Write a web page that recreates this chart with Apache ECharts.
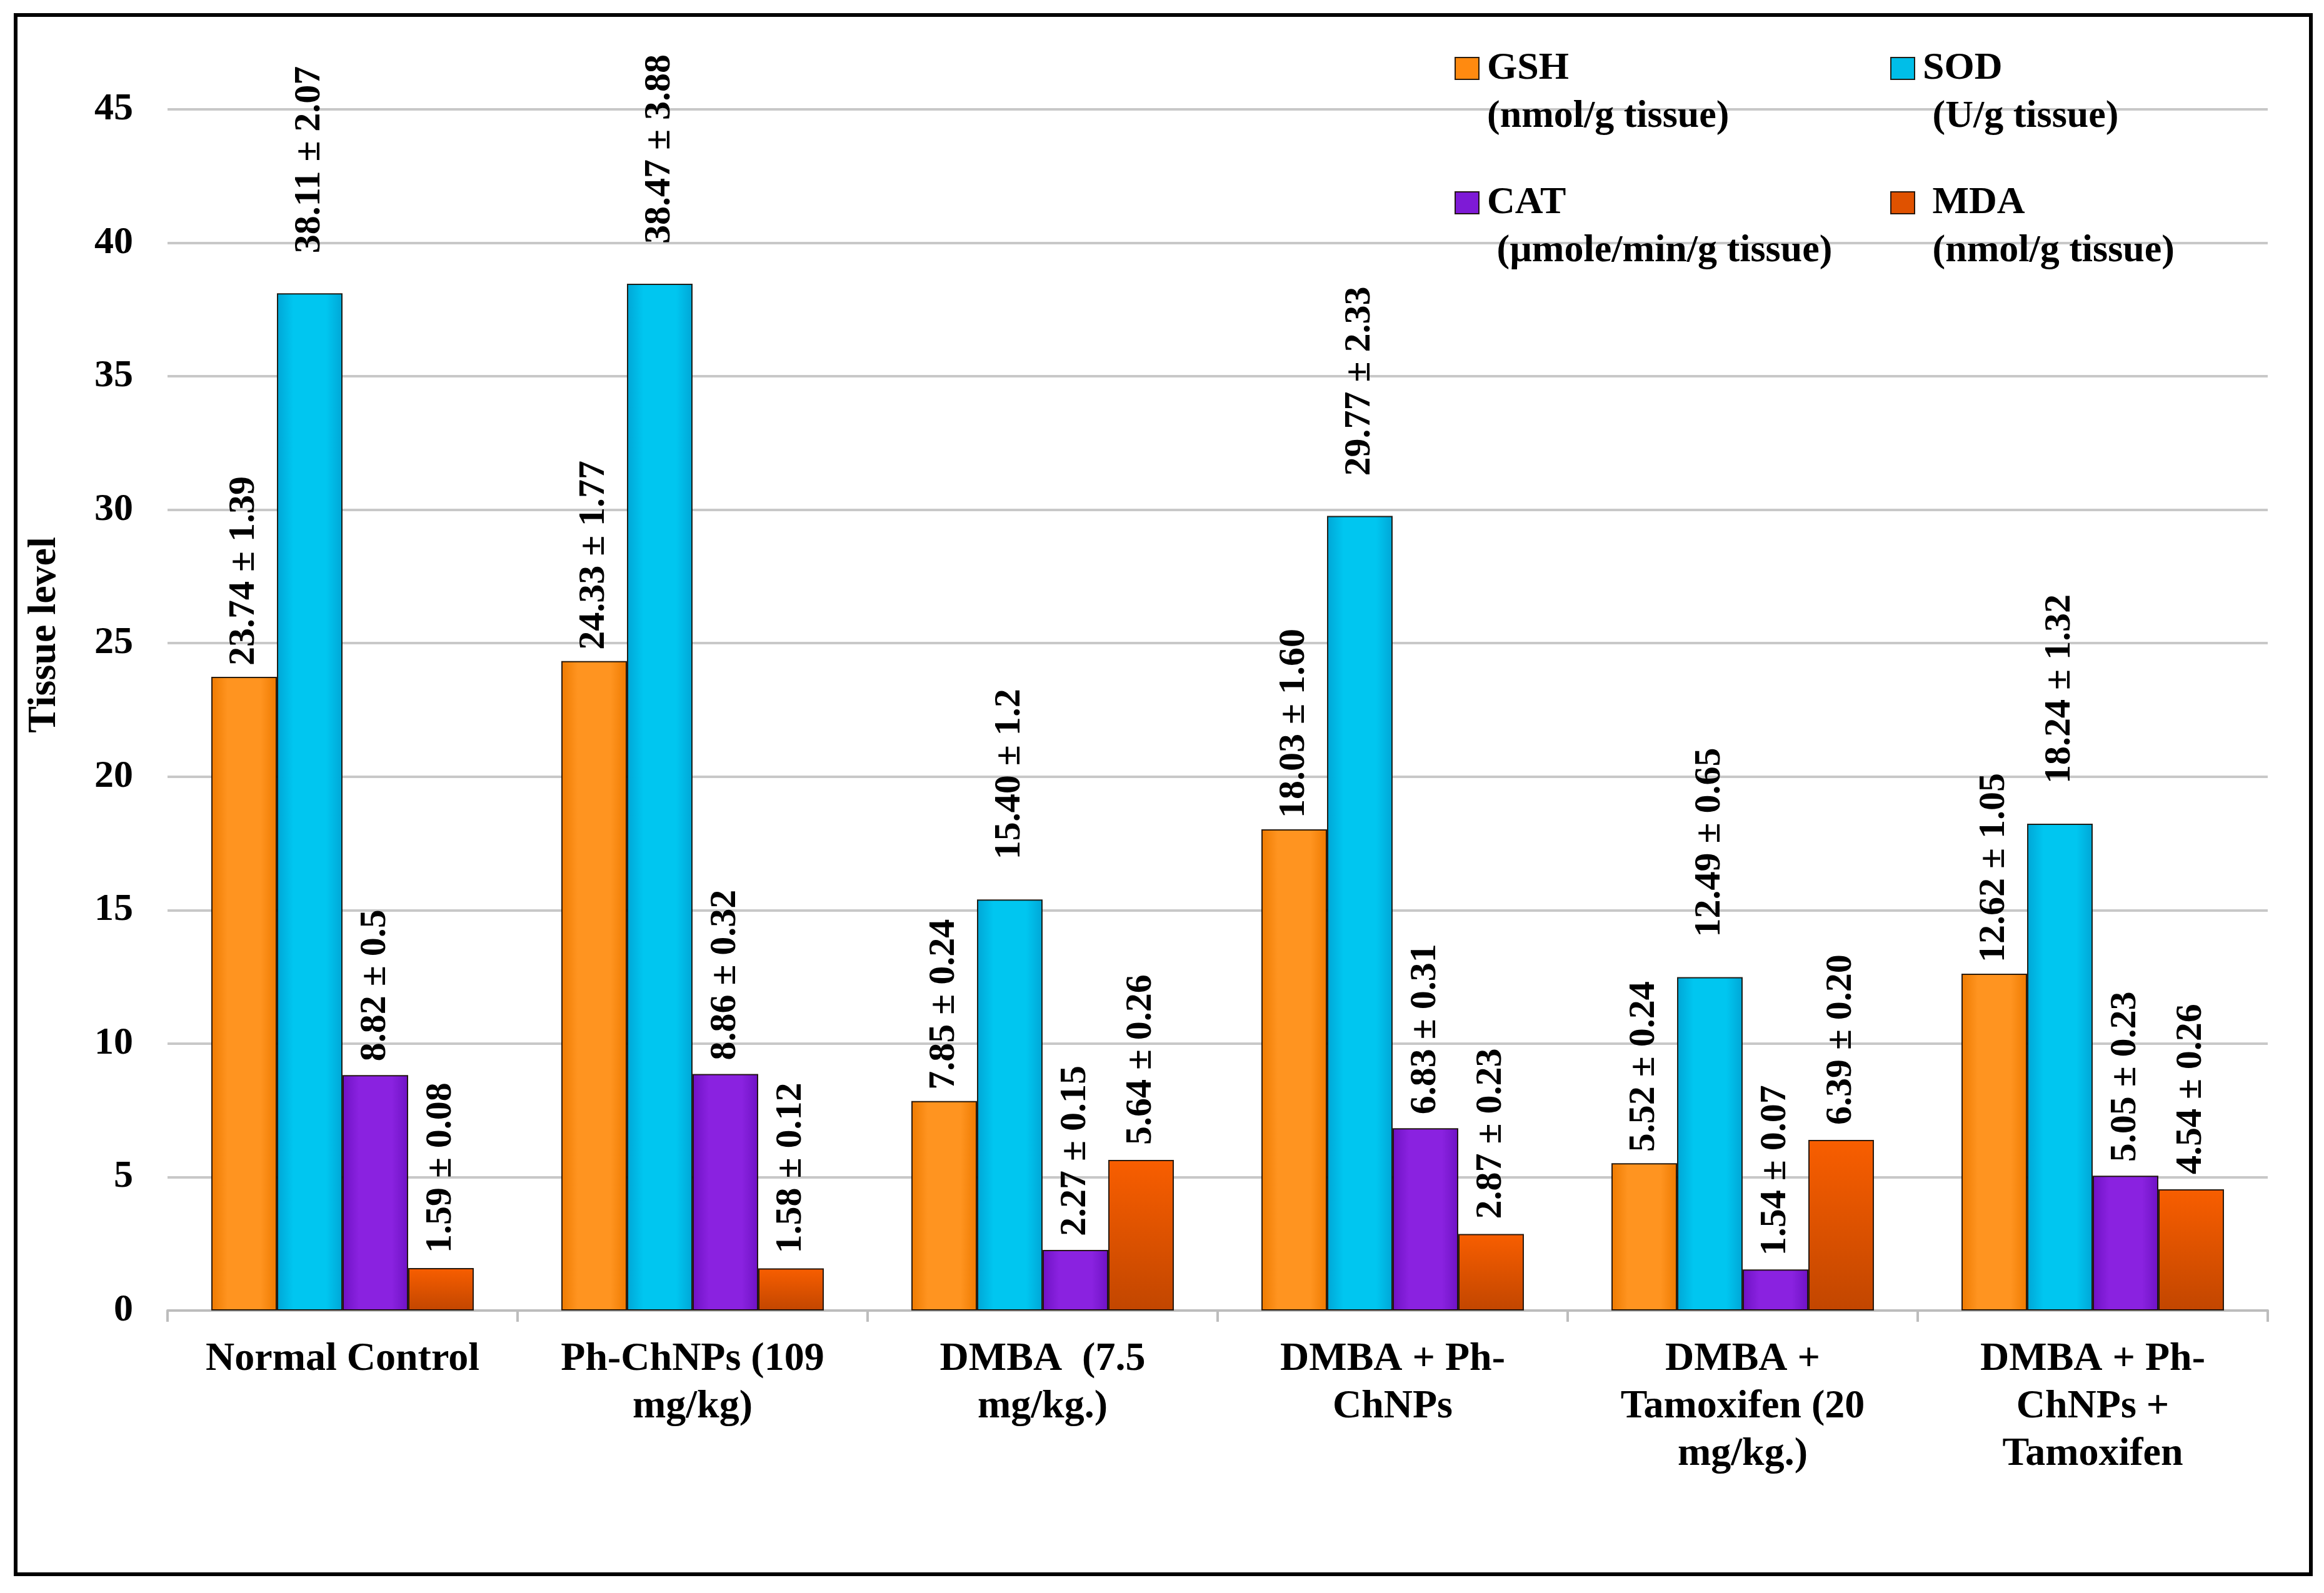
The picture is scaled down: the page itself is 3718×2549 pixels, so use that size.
<!DOCTYPE html>
<html>
<head>
<meta charset="utf-8">
<script src="https://cdn.jsdelivr.net/npm/echarts@6/dist/echarts.min.js"></script>
<style>
html,body{margin:0;padding:0;background:#fff;}
#chart{width:3718px;height:2549px;}
</style>
</head>
<body>
<div id="chart"></div>
<script>
const categories = [
  'Normal Control',
  'Ph-ChNPs (109\nmg/kg)',
  'DMBA  (7.5\nmg/kg.)',
  'DMBA + Ph-\nChNPs',
  'DMBA +\nTamoxifen (20\nmg/kg.)',
  'DMBA + Ph-\nChNPs +\nTamoxifen'
];
const seriesNames = ['GSH', 'SOD', 'CAT', 'MDA'];
const legendNames = ['GSH', 'SOD', 'CAT', ' MDA'];
const units = ['(nmol/g tissue)', ' (U/g tissue)', ' (\u00b5mole/min/g tissue)', ' (nmol/g tissue)'];

const gshValues = [23.74, 24.33, 7.85, 18.03, 5.52, 12.62];
const sodValues = [38.11, 38.47, 15.40, 29.77, 12.49, 18.24];
const catValues = [8.82, 8.86, 2.27, 6.83, 1.54, 5.05];
const mdaValues = [1.59, 1.58, 5.64, 2.87, 6.39, 4.54];

const gshErr = ['1.39', '1.77', '0.24', '1.60', '0.24', '1.05'];
const sodErr = ['2.07', '3.88', '1.2', '2.33', '0.65', '1.32'];
const catErr = ['0.5', '0.32', '0.15', '0.31', '0.07', '0.23'];
const mdaErr = ['0.08', '0.12', '0.26', '0.23', '0.20', '0.26'];

const yTicks = { min: 0, max: 45, interval: 5 };

const FONT = "'Liberation Serif', 'Times New Roman', serif";
const chart = echarts.init(document.getElementById('chart'), null, { renderer: 'canvas' });

function hGrad(edge, mid) {
  return new echarts.graphic.LinearGradient(0, 0, 1, 0, [
    { offset: 0, color: edge }, { offset: 0.25, color: mid },
    { offset: 0.75, color: mid }, { offset: 1, color: edge }
  ]);
}
function vGrad(top, bottom) {
  return new echarts.graphic.LinearGradient(0, 0, 0, 1, [
    { offset: 0, color: top }, { offset: 1, color: bottom }
  ]);
}

const colors = [
  hGrad('#EE7A00', '#FF9420'),
  hGrad('#00A6D6', '#00C6F0'),
  hGrad('#6E12C4', '#8A22E0'),
  vGrad('#F85E00', '#C24600')
];
const legendColors = ['#FF8A10', '#00BEE8', '#7E1AD6', '#E05200'];
const allValues = [gshValues, sodValues, catValues, mdaValues];
const allErr = [gshErr, sodErr, catErr, mdaErr];
const labelDist = [18, 64, 22, 24];

const series = seriesNames.map((name, si) => ({
  name: name,
  type: 'bar',
  barGap: '0%',
  barCategoryGap: '25%',
  data: allValues[si],
  itemStyle: { color: colors[si], borderColor: 'rgba(20,10,0,0.9)', borderWidth: 2 },
  label: {
    show: true,
    position: 'top',
    rotate: 90,
    align: 'left',
    verticalAlign: 'middle',
    distance: labelDist[si],
    fontFamily: FONT,
    fontWeight: 'bold',
    fontSize: 60,
    color: '#000',
    formatter: p => p.value.toFixed(2) + ' \u00b1 ' + allErr[si][p.dataIndex]
  }
}));

const legendPos = [
  { left: 2327, top: 110 },
  { left: 3024, top: 110 },
  { left: 2327, top: 325 },
  { left: 3024, top: 325 }
];
const legends = seriesNames.map((name, i) => ({
  data: [{ name: name, itemStyle: { color: legendColors[i] } }],
  left: legendPos[i].left,
  top: legendPos[i].top - 116,
  padding: 0,
  icon: 'rect',
  itemWidth: 38,
  itemHeight: 35,
  selectedMode: false,
  formatter: () => '\n' + legendNames[i] + '\n' + units[i],
  textStyle: {
    fontFamily: FONT, fontWeight: 'bold', fontSize: 62, color: '#000',
    lineHeight: 77, padding: [0, 0, 0, 8]
  }
}));

chart.setOption({
  backgroundColor: '#fff',
  animation: false,
  textStyle: { fontFamily: FONT },
  grid: { left: 268, right: 90, top: 175, bottom: 452, containLabel: false },
  legend: legends,
  xAxis: {
    type: 'category',
    data: categories,
    axisLine: { show: true, lineStyle: { color: '#bdbdbd', width: 4 } },
    axisTick: { show: true, length: 18, lineStyle: { color: '#bdbdbd', width: 4 } },
    axisLabel: {
      interval: 0, margin: 40, fontFamily: FONT, fontWeight: 'bold',
      fontSize: 64, lineHeight: 76, color: '#000'
    }
  },
  yAxis: {
    type: 'value',
    min: yTicks.min, max: yTicks.max, interval: yTicks.interval,
    name: 'Tissue level',
    nameLocation: 'middle',
    nameGap: 165,
    nameRotate: 90,
    nameTextStyle: { fontFamily: FONT, fontWeight: 'bold', fontSize: 64, color: '#000', padding: [0, 0, 0, 240] },
    axisLine: { show: false },
    axisTick: { show: false },
    axisLabel: { margin: 55, fontFamily: FONT, fontWeight: 'bold', fontSize: 62, color: '#000' },
    splitLine: { show: true, lineStyle: { color: '#c8c8c8', width: 4 } }
  },
  graphic: [{
    type: 'rect',
    shape: { x: 25, y: 24, width: 3672, height: 2495 },
    style: { fill: 'none', stroke: '#000', lineWidth: 6 },
    silent: true,
    z: 100
  }],
  series: series
});
</script>
</body>
</html>
